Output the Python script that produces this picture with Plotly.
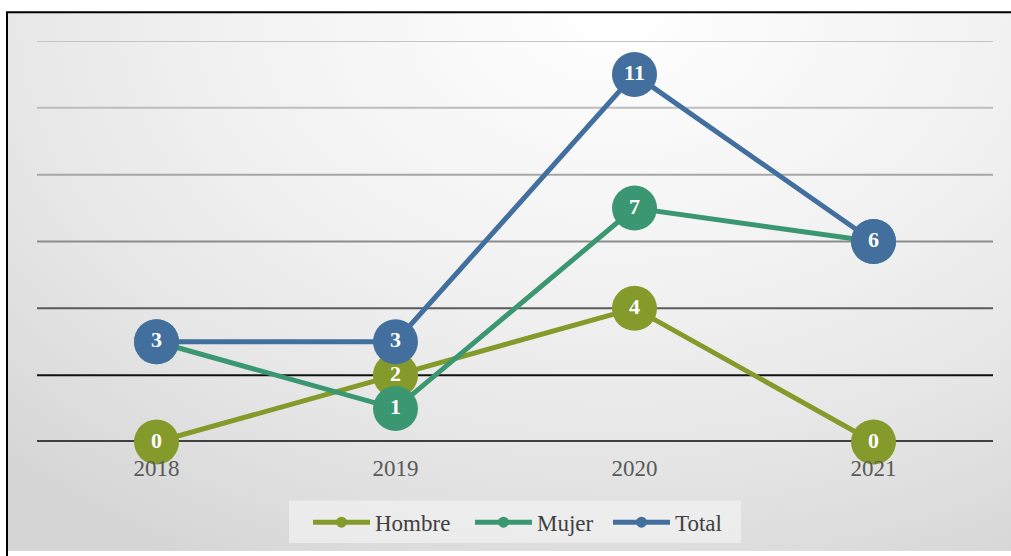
import base64
import plotly.graph_objects as go

# --- data ---------------------------------------------------------------
years = ["2018", "2019", "2020", "2021"]
hombre = [0, 2, 4, 0]
mujer = [3, 1, 7, 6]
total = [3, 3, 11, 6]

grid_values = [0, 2, 4, 6, 8, 10, 12]
grid_colors = ["#404040", "#111111", "#5a5a5a", "#8c8c8c", "#a6a6a6", "#bdbdbd", "#c4c4c4"]
grid_widths = [4, 2, 2, 2, 2, 2, 2]

SERIES = [
    ("Hombre", hombre, "#849a2a", "legend", 308),
    ("Mujer", mujer, "#3b9771", "legend2", 470),
    ("Total", total, "#426f9d", "legend3", 608),
]

W, H = 1011, 556
L, R, T, B = 37, 18, 41, 110
FONT = "Liberation Serif, Times New Roman, serif"


def px_x(p):
    # page pixel -> paper coordinate
    return (p - L) / (W - L - R)


def px_y(p):
    return (H - B - p) / (H - T - B)


# elliptical radial gradient background as an svg image
svg = f"""<svg xmlns='http://www.w3.org/2000/svg' width='{W}' height='{H}'>
<defs><radialGradient id='g' gradientUnits='userSpaceOnUse' cx='0' cy='0' r='1'
 gradientTransform='translate(612,0) scale(900,650)'>
<stop offset='0' stop-color='#ffffff'/><stop offset='0.45' stop-color='#f1f1f1'/>
<stop offset='0.7' stop-color='#e6e6e6'/><stop offset='1' stop-color='#d5d5d5'/></radialGradient></defs>
<rect x='0' y='0' width='{W}' height='{H}' fill='url(#g)'/></svg>"""
bg_uri = "data:image/svg+xml;base64," + base64.b64encode(svg.encode()).decode()

fig = go.Figure()
for name, vals, color, _, _ in SERIES:
    fig.add_trace(go.Scatter(
        x=years, y=vals, name=name,
        mode="lines+markers+text",
        line=dict(color=color, width=5),
        marker=dict(color=color, size=45),
        text=[str(v) for v in vals],
        textposition="middle center",
        textfont=dict(family=FONT, size=22, color="white", weight="bold"),
        cliponaxis=False,
        showlegend=False,
    ))
# legend-only entries with a small marker, one legend each so they sit where the original has them
legends = {}
for name, vals, color, leg, xpos in SERIES:
    fig.add_trace(go.Scatter(
        x=[None], y=[None], name=name, mode="lines+markers", legend=leg,
        line=dict(color=color, width=5), marker=dict(color=color, size=11),
    ))
    legends[leg] = dict(x=px_x(xpos), y=px_y(527), xanchor="left", yanchor="middle",
                        bgcolor="rgba(0,0,0,0)", font=dict(size=23, color="#404040"),
                        itemwidth=57)

shapes = []
for v, c, w in zip(grid_values, grid_colors, grid_widths):
    shapes.append(dict(type="line", xref="paper", yref="y", x0=0, x1=1, y0=v, y1=v,
                       line=dict(color=c, width=w), layer="below"))
# chart frame
shapes.append(dict(type="line", xref="paper", yref="paper",
                   x0=px_x(6), x1=px_x(1011), y0=px_y(12), y1=px_y(12),
                   line=dict(color="black", width=2)))
shapes.append(dict(type="line", xref="paper", yref="paper",
                   x0=px_x(7), x1=px_x(7), y0=px_y(12), y1=px_y(570),
                   line=dict(color="black", width=2)))
# legend box
shapes.append(dict(type="rect", xref="paper", yref="paper",
                   x0=px_x(289), x1=px_x(741), y0=px_y(505), y1=px_y(548),
                   fillcolor="rgba(242,242,242,0.7)", line=dict(width=0), layer="below"))

fig.update_layout(
    width=W, height=H,
    margin=dict(l=L, r=R, t=T, b=B),
    paper_bgcolor="white",
    plot_bgcolor="rgba(0,0,0,0)",
    font=dict(family=FONT, size=23, color="#404040"),
    showlegend=True,
    shapes=shapes,
    images=[dict(source=bg_uri, xref="paper", yref="paper",
                 x=px_x(7), y=px_y(12), sizex=px_x(W) - px_x(7), sizey=px_y(12) - px_y(H),
                 xanchor="left", yanchor="top", sizing="stretch", layer="below")],
    **legends,
)
fig.update_xaxes(type="category", range=[-0.5, 3.5], showgrid=False, zeroline=False,
                 showline=False, ticks="outside", ticklen=5, tickcolor="rgba(0,0,0,0)",
                 tickfont=dict(size=23, color="#595959"))
fig.update_yaxes(range=[0, 12], showgrid=False, zeroline=False, showline=False,
                 showticklabels=False)

# drop the default body margin so the figure fills the window exactly
fig.write_html("out.html", config={"displayModeBar": False},
               post_script="document.body.style.margin='0';")
